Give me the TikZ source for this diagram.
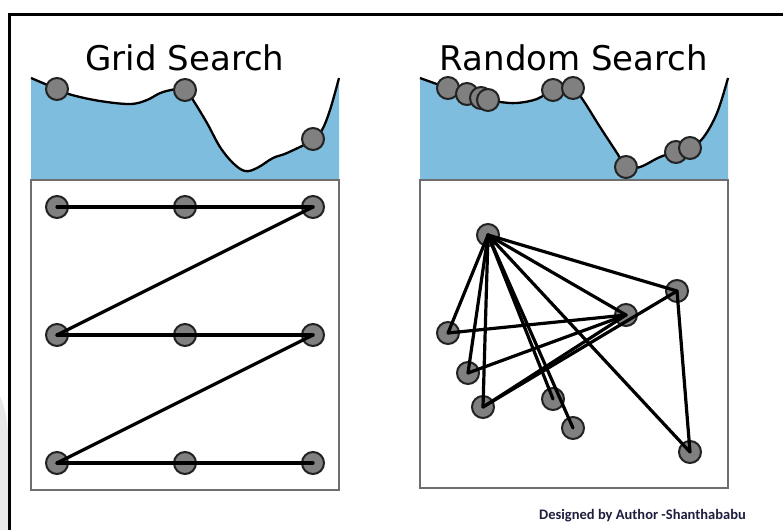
\documentclass[tikz,border=0pt]{standalone}
\usepackage{fontspec}
\newfontfamily\titlefont{DejaVu Sans}
\newfontfamily\notefont{Carlito}
\definecolor{lossfill}{RGB}{127,189,223}
\definecolor{dotfill}{RGB}{128,128,128}
\definecolor{dotedge}{RGB}{34,34,34}
\definecolor{paneledge}{RGB}{110,110,110}
\definecolor{notecolor}{RGB}{30,30,62}
\tikzset{
  dot/.style={circle, minimum size=22pt, inner sep=0pt, fill=dotfill, draw=dotedge, line width=2pt},
  link/.style={line width=3.2pt, black, line cap=round, line join=round},
  losscurve/.style={line width=2.3pt, black},
  panel/.style={draw=paneledge, line width=1.8pt},
  frame/.style={line width=3.5pt, black},
  heading/.style={font=\titlefont\fontsize{34}{38}\selectfont, anchor=base, inner sep=0pt},
}
\begin{document}
\begin{tikzpicture}[x=1pt, y=-1pt]
\useasboundingbox (0,0) rectangle (783,530);
\fill[white] (0,0) rectangle (783,530);

% faint shadow at the lower left
\fill[black!9] (0,396) .. controls (5,408) and (8,420) .. (8,440) -- (8,530) -- (0,530) -- cycle;

% outer frame (top and left edges only)
\draw[frame] (9.5,530) -- (9.5,14.5) -- (783,14.5);

% ---------- Grid Search ----------
\node[heading] (gtitle) at (185,70) {Grid Search};

\fill[lossfill] plot[smooth, tension=0.6] coordinates {
  (31,78) (57,89) (72,95) (100,101) (130,104) (147,100) (163,92) (185,89)
  (193,100) (207,123) (220,147) (233,163) (245,171) (257,168) (273,158)
  (287,153) (313,140) (322,130) (330,110) (339,78)} -- (339,180) -- (31,180) -- cycle;
\draw[losscurve] plot[smooth, tension=0.6] coordinates {
  (31,78) (57,89) (72,95) (100,101) (130,104) (147,100) (163,92) (185,89)
  (193,100) (207,123) (220,147) (233,163) (245,171) (257,168) (273,158)
  (287,153) (313,140) (322,130) (330,110) (339,78)};
\node[dot] (gc1) at (57,89) {};
\node[dot] (gc2) at (185,90) {};
\node[dot] (gc3) at (313,139) {};

\draw[panel] (31,180) rectangle (339,490);

\node[dot] (g11) at (57,207) {};
\node[dot] (g12) at (185,207) {};
\node[dot] (g13) at (313,207) {};
\node[dot] (g21) at (57,335) {};
\node[dot] (g22) at (185,335) {};
\node[dot] (g23) at (313,335) {};
\node[dot] (g31) at (57,463) {};
\node[dot] (g32) at (185,463) {};
\node[dot] (g33) at (313,463) {};

% row-by-row sweep, each step drawn as its own segment
\foreach \a/\b in {g11/g12, g12/g13, g13/g21, g21/g22, g22/g23, g23/g31, g31/g32, g32/g33}
  \draw[link] (\a.center) -- (\b.center);

% ---------- Random Search ----------
\node[heading] (rtitle) at (574,70) {Random Search};

\fill[lossfill] plot[smooth, tension=0.6] coordinates {
  (420,78) (448,88) (468,94) (488,100) (500,102) (517,103) (537,99) (553,90)
  (573,88) (583,100) (600,127) (617,153) (626,167) (640,167) (660,157)
  (676,152) (690,148) (703,138) (717,113) (728,78)} -- (728,180) -- (420,180) -- cycle;
\draw[losscurve] plot[smooth, tension=0.6] coordinates {
  (420,78) (448,88) (468,94) (488,100) (500,102) (517,103) (537,99) (553,90)
  (573,88) (583,100) (600,127) (617,153) (626,167) (640,167) (660,157)
  (676,152) (690,148) (703,138) (717,113) (728,78)};
\node[dot] (rc1) at (448,88) {};
\node[dot] (rc2) at (467,94) {};
\node[dot] (rc3) at (481,98) {};
\node[dot] (rc4) at (488,100) {};
\node[dot] (rc5) at (553,90) {};
\node[dot] (rc6) at (573,88) {};
\node[dot] (rc7) at (626,167) {};
\node[dot] (rc8) at (676,152) {};
\node[dot] (rc9) at (690,148) {};

\draw[panel] (420,180) rectangle (728,488);

\node[dot] (ra) at (488,235) {};
\node[dot] (rb) at (677,291) {};
\node[dot] (rcc) at (626,315) {};
\node[dot] (rd) at (448,333) {};
\node[dot] (re) at (468,373) {};
\node[dot] (rf) at (483,407) {};
\node[dot] (rg) at (553,399) {};
\node[dot] (rh) at (573,428) {};
\node[dot] (ri) at (690,452) {};

\foreach \t in {rb,rcc,rd,re,rf,rg,rh,ri}
  \draw[link] (ra.center) -- (\t.center);
\foreach \t in {rd,re,rf}
  \draw[link] (rcc.center) -- (\t.center);
\draw[link] (rf.center) -- (rb.center);
\draw[link] (rb.center) -- (ri.center);

% credit line
\node[font=\notefont\bfseries\fontsize{14.5}{16}\selectfont, text=notecolor, anchor=base, inner sep=0pt]
  (credit) at (642.5,519.5) {Designed by Author -Shanthababu};
\end{tikzpicture}
\end{document}
